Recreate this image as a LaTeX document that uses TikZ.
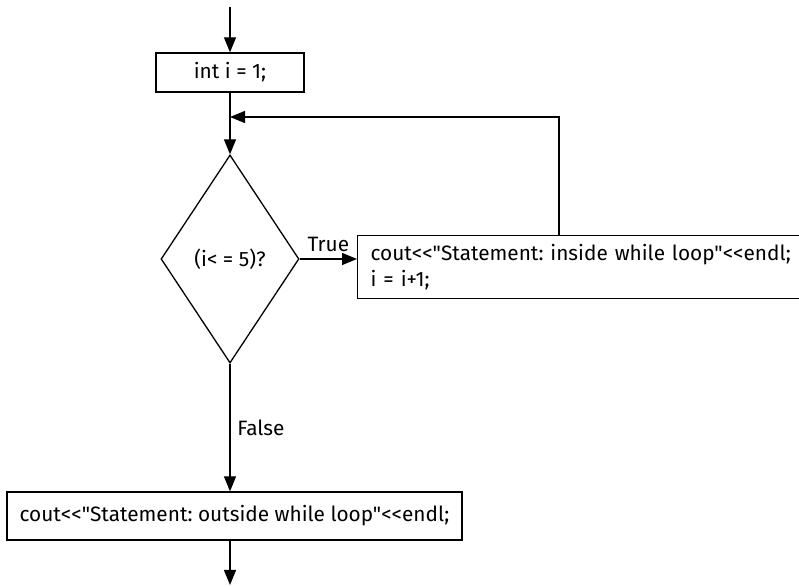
\documentclass[tikz,border=0pt]{standalone}
\usepackage{fontspec}
\newfontfamily\flowfont{Fira Sans}
\usepackage{tikz}
\usetikzlibrary{arrows.meta, positioning, shapes.geometric, calc}
\frenchspacing

\begin{document}
\begin{tikzpicture}[x=0.5pt, y=-0.5pt, >={Triangle[length=7.5pt, width=6pt]},
        line width=0.65pt,
        blk/.style={draw, rectangle, inner sep=0pt, font=\flowfont\fontsize{10.4}{13}\selectfont,
                    align=center},
        cond/.style={draw, diamond, inner sep=0pt, font=\flowfont\fontsize{10.4}{13}\selectfont,
                     minimum width=69pt, minimum height=104pt},
        lbl/.style={font=\flowfont\fontsize{10.4}{13}\selectfont}]

      \useasboundingbox (0,0) rectangle (799,587);

      \coordinate (in) at (230,7);
      \node[blk, minimum width=74pt, minimum height=19.5pt] (init) at (230,72.5) {int i = 1;};
      \coordinate (merge) at (230,117);
      \node[cond] (test) at (230,259) {(i< = 5)?};
      \node[blk, align=left, anchor=west, text width=214pt, inner xsep=6.5pt,
            minimum height=31.75pt] (body) at (357,267)
            {cout<<"Statement: inside while loop"<<endl;\\ i = i+1;};
      \coordinate (ret) at (559,117);
      \node[blk, minimum width=227.5pt, minimum height=24pt] (done) at (234.5,516)
            {cout<<"Statement: outside while loop"<<endl;};
      \coordinate (out) at (230,585);

      \draw[->] (in) -- (init);
      \draw[->] (init) -- (test);
      \draw[->] (test.east) -- node[lbl, above]{True} (test.east -| body.west);
      \draw[->] (body.north -| ret) -- (ret) -- (merge);
      \draw[->] (test.south) -- node[lbl, right, pos=0.5]{False} (test.south |- done.north);
      \draw[->] (test.south |- done.south) -- (out);
    \end{tikzpicture}
\end{document}
